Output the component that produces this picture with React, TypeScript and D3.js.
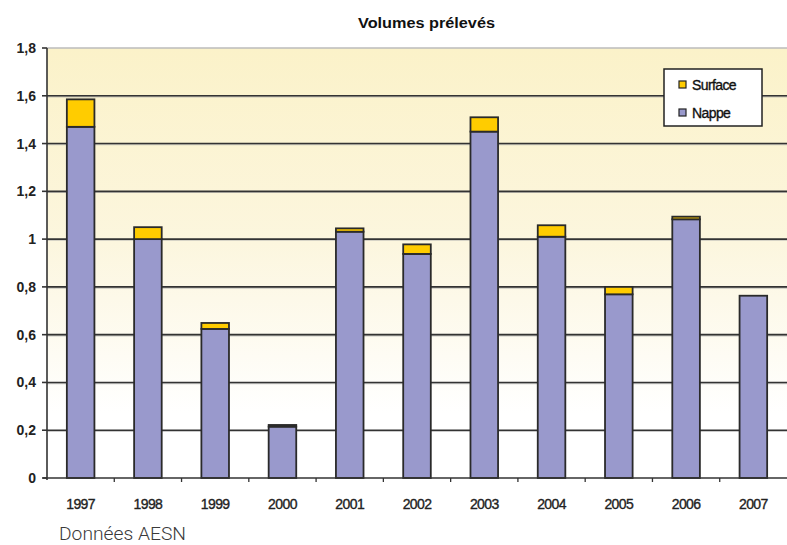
import React from "react";
import * as d3 from "d3";

const years = ["1997","1998","1999","2000","2001","2002","2003","2004","2005","2006","2007"];
const nappe = [1.47, 1.0, 0.624, 0.215, 1.031, 0.938, 1.45, 1.01, 0.769, 1.083, 0.763];
const surface = [0.115, 0.05, 0.025, 0.007, 0.014, 0.04, 0.06, 0.048, 0.031, 0.011, 0.0];
const yTicks = [0, 0.2, 0.4, 0.6, 0.8, 1, 1.2, 1.4, 1.6, 1.8];
const seriesNames = ["Surface", "Nappe"];
const colors = { Surface: "#ffcc00", Nappe: "#9999cc" };

const W = 787, H = 545;
const left = 47, right = 787, top = 48, bottom = 478;

export default function App() {
  const x = d3.scaleBand<string>().domain(years).range([left, right]).paddingInner(0).paddingOuter(0);
  const y = d3.scaleLinear().domain([0, 1.8]).range([bottom, top]);
  const bw = x.bandwidth() * 0.41;
  const fmt = (v: number) => (v === 0 ? "0" : String(+v.toFixed(1)).replace(".", ","));
  const font = "Liberation Sans, Arial, sans-serif";

  return (
    <svg width={W} height={H} style={{ position: "absolute", left: 0, top: 0, display: "block" }}>
      <defs>
        <linearGradient id="bg" x1="0" y1="0" x2="0" y2="1">
          <stop offset="0" stopColor="#fbf2c9" />
          <stop offset="0.45" stopColor="#fcf6de" />
          <stop offset="0.85" stopColor="#ffffff" />
          <stop offset="1" stopColor="#ffffff" />
        </linearGradient>
      </defs>
      <rect x={0} y={0} width={W} height={H} fill="#fff" />
      <text x={358} y={28} fontFamily={font} fontWeight="bold" fontSize={14.5} fill="#111" textLength={137} lengthAdjust="spacingAndGlyphs">
        Volumes prélevés
      </text>
      <rect x={left} y={top} width={right - left} height={bottom - top} fill="url(#bg)" />
      <line x1={left} x2={right} y1={top} y2={top} stroke="#bbb" strokeWidth={1.5} />
      {yTicks.filter(t => t > 0 && t < 1.8).map(t => (
        <g key={t}>
          <line x1={left} x2={right} y1={y(t) + 1} y2={y(t) + 1} stroke="#aaa" strokeWidth={1.5} opacity={0.6} />
          <line x1={left} x2={right} y1={y(t)} y2={y(t)} stroke="#333" strokeWidth={1.6} />
        </g>
      ))}
      {years.map((yr, i) => {
        const cx = (x(yr) as number) + x.bandwidth() / 2;
        const x0 = cx - bw / 2;
        const total = nappe[i] + surface[i];
        return (
          <g key={yr}>
            <rect x={x0} y={y(nappe[i])} width={bw} height={y(0) - y(nappe[i])} fill={colors.Nappe} stroke="#2a2a2a" strokeWidth={1.8} />
            {surface[i] > 0 && (
              <rect x={x0} y={y(total)} width={bw} height={y(nappe[i]) - y(total)} fill={colors.Surface} stroke="#2a2a2a" strokeWidth={1.8} />
            )}
            <text x={cx} y={509} textAnchor="middle" fontFamily={font} fontSize={14} fill="#222" stroke="#222" strokeWidth={0.35} letterSpacing={-0.6}>
              {yr}
            </text>
          </g>
        );
      })}
      {/* axes */}
      <line x1={left} x2={left} y1={top} y2={bottom + 2} stroke="#333" strokeWidth={1.6} />
      <line x1={left - 4} x2={right} y1={bottom} y2={bottom} stroke="#333" strokeWidth={1.6} />
      {yTicks.map(t => (
        <g key={"yt" + t}>
          <line x1={left - 5} x2={left} y1={y(t)} y2={y(t)} stroke="#333" strokeWidth={1.6} />
          <text x={36} y={y(t) + 5} textAnchor="end" fontFamily={font} fontSize={14} fontWeight="bold" fill="#222">
            {fmt(t)}
          </text>
        </g>
      ))}
      {years.slice(1).map(yr => (
        <line key={"xt" + yr} x1={x(yr) as number} x2={x(yr) as number} y1={bottom} y2={bottom + 4} stroke="#333" strokeWidth={1.3} />
      ))}
      {/* legend */}
      <g>
        <rect x={664} y={69} width={98} height={57} fill="#fff" stroke="#222" strokeWidth={1.5} />
        {seriesNames.map((s, i) => (
          <g key={s}>
            <rect x={679} y={81 + i * 28} width={7} height={7} fill={colors[s as "Surface" | "Nappe"]} stroke="#222" strokeWidth={1.2} />
            <text x={692} y={90 + i * 28} fontFamily={font} fontSize={14} fill="#111" stroke="#111" strokeWidth={0.35} letterSpacing={-0.6}>
              {s}
            </text>
          </g>
        ))}
      </g>
      <text x={59} y={540} fontFamily="Roboto, 'Liberation Sans', sans-serif" fontWeight={300} fontSize={18} fill="#3a3a3a" textLength={127} lengthAdjust="spacingAndGlyphs">
        Données AESN
      </text>
    </svg>
  );
}
